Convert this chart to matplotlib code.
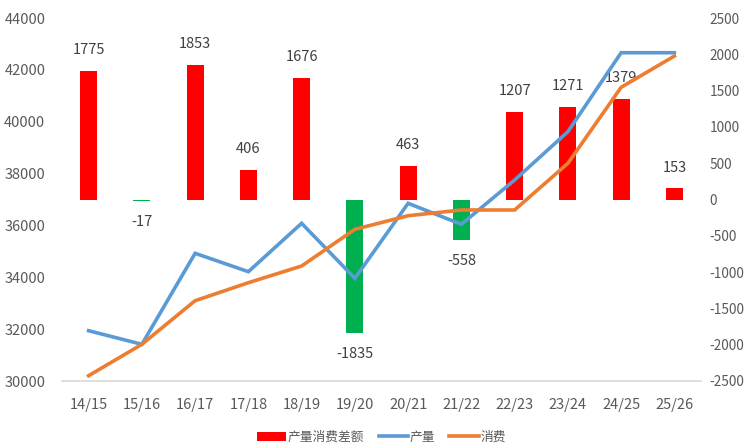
import matplotlib
matplotlib.use("Agg")
import matplotlib.pyplot as plt
from matplotlib.patches import Patch
from matplotlib.lines import Line2D

plt.rcParams['font.family'] = ['Noto Sans CJK SC', 'DejaVu Sans']
plt.rcParams['axes.unicode_minus'] = False

categories = ["14/15", "15/16", "16/17", "17/18", "18/19", "19/20",
              "20/21", "21/22", "22/23", "23/24", "24/25", "25/26"]
production = [31940, 31415, 34925, 34216, 36082, 33960,
              36853, 36043, 37752, 39614, 42661, 42661]
consumption = [30204, 31415, 33097, 33791, 34435, 35850,
               36375, 36595, 36595, 38395, 41326, 42533]
diff = [1775, -17, 1853, 406, 1676, -1835, 463, -558, 1207, 1271, 1379, 153]

RED = "#FF0000"
GREEN = "#00B050"
BLUE = "#5B9BD5"
ORANGE = "#ED7D31"
TXT = "#595959"
FS = 9.8

fig = plt.figure(figsize=(7.45, 4.47), dpi=100)
W, H = 745, 447
ax = fig.add_axes([62 / W, (H - 381) / H, 639 / W, 363 / H])
ax2 = ax.twinx()

x = list(range(len(categories)))

# bars on secondary axis
colors = [RED if v >= 0 else GREEN for v in diff]
ax2.bar(x, diff, width=0.32, color=colors, zorder=1)
for xi, v in zip(x, diff):
    if v >= 0:
        ax2.annotate(str(v), (xi, v), xytext=(0, 10), textcoords="offset points",
                     ha="center", va="bottom", fontsize=10.5, color="#404040")
    else:
        ax2.annotate(str(v), (xi, v), xytext=(0, -10), textcoords="offset points",
                     ha="center", va="top", fontsize=10.5, color="#404040")
ax2.set_ylim(-2500, 2500)
ax2.set_yticks(range(-2500, 2501, 500))

# lines on primary axis, drawn on top
ax.set_zorder(ax2.get_zorder() + 1)
ax.patch.set_visible(False)
ax.plot(x, production, color=BLUE, lw=2.6, solid_joinstyle="miter")
ax.plot(x, consumption, color=ORANGE, lw=2.6, solid_joinstyle="miter")
ax.set_ylim(30000, 44000)
ax.set_yticks(range(30000, 44001, 2000))
ax.set_xlim(-0.5, len(categories) - 0.5)
ax.set_xticks(x)
ax.set_xticklabels(categories)

for a in (ax, ax2):
    for s in a.spines.values():
        s.set_visible(False)
    a.tick_params(length=0, labelsize=FS, colors=TXT)
ax.tick_params(axis='both', labelsize=10.5)
ax.spines['bottom'].set_visible(True)
ax.spines['bottom'].set_color("#D9D9D9")
ax.spines['bottom'].set_linewidth(1.2)
ax.tick_params(axis='x', pad=12)
ax.tick_params(axis='y', pad=12)
ax2.tick_params(axis='y', pad=6)

handles = [Patch(facecolor=RED, label="产量消费差额"),
           Line2D([0], [0], color=BLUE, lw=2.6, label="产量"),
           Line2D([0], [0], color=ORANGE, lw=2.6, label="消费")]
fig.legend(handles=handles, loc="center", bbox_to_anchor=(0.512, (H - 437) / H),
           ncol=3, frameon=False, fontsize=9.2, handlelength=2.3,
           handletextpad=0.15, columnspacing=1.1, labelcolor=TXT)

fig.savefig("out.png", dpi=100)
